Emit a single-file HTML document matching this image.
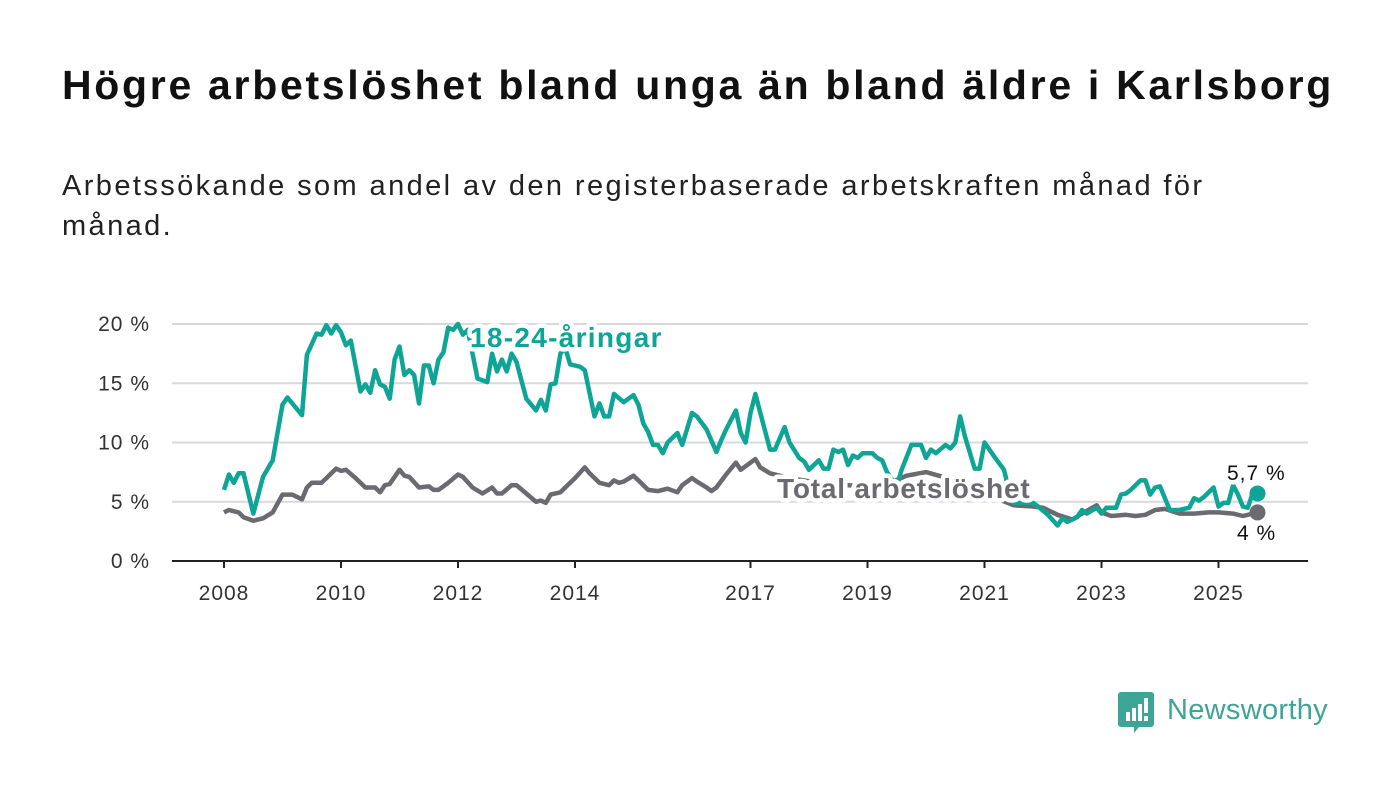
<!DOCTYPE html>
<html><head><meta charset="utf-8"><style>
body{margin:0;background:#fff;font-family:"Liberation Sans",sans-serif;}
#wrap{position:relative;width:1400px;height:794px;overflow:hidden;}
h1{position:absolute;left:62px;top:62px;margin:0;font-size:41px;font-weight:bold;color:#111;letter-spacing:2.7px;}
#sub{position:absolute;left:62px;top:166px;margin:0;font-size:29px;line-height:40px;color:#222;width:1250px;letter-spacing:2.4px;}
</style></head><body>
<div id="wrap">
<h1>Högre arbetslöshet bland unga än bland äldre i Karlsborg</h1>
<p id="sub">Arbetssökande som andel av den registerbaserade arbetskraften månad för<br>månad.</p>
<svg id="chart" width="1400" height="794" style="position:absolute;left:0;top:0"></svg>
</div>
<script>
const yTicks=[0,5,10,15,20];
const yTickLabels=["0 %","5 %","10 %","15 %","20 %"];
const xTicks=[2008,2010,2012,2014,2017,2019,2021,2023,2025];
const youthMonths=[0,1,2,3,4,6,8,10,12,13,16,17,19,20,21,22,23,24,25,26,28,29,30,31,32,33,34,35,36,37,38,39,40,41,42,43,44,45,46,47,48,49,50,52,54,55,56,57,58,59,60,62,64,65,66,67,68,69,70,71,73,74,76,77,78,79,80,82,84,85,86,87,88,89,90,91,93,94,96,97,99,101,102,103,105,106,107,108,109,110,112,113,115,116,118,119,120,122,123,124,125,126,127,128,129,130,131,133,134,135,136,138,139,141,143,144,145,146,148,149,150,151,152,154,155,156,158,160,161,162,166,167,169,171,172,173,175,176,177,179,180,181,183,184,185,186,188,189,190,191,192,194,196,198,199,200,201,203,204,205,206,207,208,209,210,211,212];
const youthValues=[6.0,7.3,6.6,7.4,7.4,4.0,7.1,8.5,13.2,13.8,12.3,17.4,19.2,19.1,19.9,19.2,19.9,19.3,18.2,18.6,14.3,14.9,14.2,16.1,14.9,14.7,13.7,17.0,18.1,15.7,16.1,15.7,13.3,16.5,16.5,15.0,17.0,17.6,19.7,19.5,20.0,19.1,19.5,15.4,15.1,17.5,16.0,17.0,16.0,17.5,16.8,13.7,12.7,13.6,12.7,14.9,15.0,17.5,18.0,16.6,16.4,16.1,12.2,13.3,12.2,12.2,14.1,13.4,14.0,13.2,11.6,10.9,9.8,9.8,9.1,10.0,10.8,9.8,12.5,12.2,11.1,9.2,10.2,11.1,12.7,10.8,10.0,12.5,14.1,12.5,9.4,9.4,11.3,10.0,8.7,8.4,7.7,8.5,7.8,7.8,9.4,9.2,9.4,8.1,8.9,8.7,9.1,9.1,8.7,8.5,7.5,6.3,7.7,9.8,9.8,8.7,9.4,9.1,9.8,9.5,10.0,12.2,10.5,7.8,7.8,10.0,8.8,7.7,6.0,4.9,4.9,4.6,3.9,3.0,3.6,3.3,3.7,4.3,4.0,4.5,4.0,4.5,4.5,5.6,5.7,6.0,6.8,6.8,5.6,6.2,6.3,4.3,4.3,4.5,5.3,5.1,5.4,6.2,4.6,4.9,4.9,6.4,5.6,4.6,4.5,5.7,5.7];
const totalMonths=[0,1,3,4,6,8,10,12,14,16,17,18,20,21,23,24,25,27,29,31,32,33,34,36,37,38,40,42,43,44,46,48,49,51,53,55,56,57,59,60,62,64,65,66,67,69,70,72,74,75,77,79,80,81,82,84,85,87,89,91,93,94,96,97,99,100,101,103,105,106,109,110,112,116,122,128,135,140,144,150,156,159,162,166,168,171,174,176,179,180,182,185,187,189,191,193,196,199,202,204,207,209,212];
const totalValues=[4.1,4.3,4.1,3.7,3.4,3.6,4.1,5.6,5.6,5.2,6.2,6.6,6.6,7.0,7.8,7.6,7.7,7.0,6.2,6.2,5.8,6.4,6.5,7.7,7.2,7.1,6.2,6.3,6.0,6.0,6.6,7.3,7.1,6.2,5.7,6.2,5.7,5.7,6.4,6.4,5.7,5.0,5.1,4.9,5.6,5.8,6.2,7.0,7.9,7.4,6.6,6.4,6.8,6.6,6.7,7.2,6.8,6.0,5.9,6.1,5.8,6.4,7.0,6.7,6.2,5.9,6.2,7.3,8.3,7.7,8.6,7.9,7.4,7.0,6.6,6.4,6.3,7.2,7.5,6.8,5.8,5.2,4.7,4.6,4.5,3.9,3.5,4.0,4.7,4.1,3.8,3.9,3.8,3.9,4.3,4.4,4.0,4.0,4.1,4.1,4.0,3.8,4.1];
const TEAL="#0ea596",GRAY="#6b6a70";
const svg=document.getElementById('chart');const NS="http://www.w3.org/2000/svg";
function xScale(yr){return 224+(yr-2008)*58.5;}
function yScale(v){return 561-v*11.85;}
function mk(t,a){const e=document.createElementNS(NS,t);for(const k in a)e.setAttribute(k,a[k]);svg.appendChild(e);return e;}
yTicks.forEach((v,i)=>{
 if(v>0){const g=mk('line',{x1:172,x2:1308,y1:yScale(v),y2:yScale(v),stroke:'#d9d9d9','stroke-width':2});
 
 }
 const t=mk('text',{x:150,y:yScale(v)+7,'text-anchor':'end','font-size':21,'letter-spacing':1,fill:'#333','font-family':'Liberation Sans, sans-serif'});
 t.textContent=yTickLabels[i];
 
 
});
const ax=mk('line',{x1:172,x2:1308,y1:561,y2:561,stroke:'#222','stroke-width':2});


xTicks.forEach(y=>{
 const tk=mk('line',{x1:xScale(y),x2:xScale(y),y1:561,y2:568,stroke:'#222','stroke-width':2});
 
 
 const t=mk('text',{x:xScale(y),y:600,'text-anchor':'middle','font-size':21,'letter-spacing':1,fill:'#333','font-family':'Liberation Sans, sans-serif'});
 t.textContent=y;
 
 
});
function pts(ms,vs){return ms.map((m,i)=>xScale(2008+m/12).toFixed(1)+','+yScale(vs[i]).toFixed(1)).join(' ');}
const lt=mk('polyline',{points:pts(totalMonths,totalValues),fill:'none',stroke:GRAY,'stroke-width':4.5,'stroke-linejoin':'round'});


const ly=mk('polyline',{points:pts(youthMonths,youthValues),fill:'none',stroke:TEAL,'stroke-width':4.5,'stroke-linejoin':'round'});


const lastT=totalMonths.length-1,lastY=youthMonths.length-1;
const dt=mk('circle',{cx:xScale(2008+totalMonths[lastT]/12),cy:yScale(totalValues[lastT]),r:8,fill:GRAY});


const dy=mk('circle',{cx:xScale(2008+youthMonths[lastY]/12),cy:yScale(youthValues[lastY]),r:8,fill:TEAL});


function lab(x,y,txt,fill,size,weight,ls,name){
 const t=mk('text',{x:x,y:y,'font-size':size,'font-weight':weight,'letter-spacing':ls,fill:fill,stroke:'#fff','stroke-width':9,'stroke-linejoin':'round','paint-order':'stroke','font-family':'Liberation Sans, sans-serif'});
 t.textContent=txt;
 
 
}
lab(470,347,'18-24-åringar',TEAL,28,'bold',1.3,'youth-series-label');
lab(777,498,'Total arbetslöshet',GRAY,28,'bold',0.8,'total-series-label');
lab(1227,480,'5,7 %','#111',21,'normal',1,'youth-end-value');
lab(1237,540,'4 %','#111',21,'normal',1,'total-end-value');
const g=document.createElementNS(NS,'g');svg.appendChild(g);


g.innerHTML='<path d="M1121 692h30a3 3 0 0 1 3 3v29a3 3 0 0 1-3 3h-12l-5 6v-6h-13a3 3 0 0 1-3-3v-29a3 3 0 0 1 3-3z" fill="#3ca596"/><rect x="1126" y="712" width="4" height="9" fill="#fff"/><rect x="1132" y="708" width="4" height="13" fill="#fff"/><rect x="1138" y="704" width="4" height="17" fill="#fff"/><rect x="1144" y="698" width="4" height="15" fill="#fff"/><rect x="1144" y="716" width="4" height="5" fill="#fff"/><text x="1167" y="719" font-size="29" letter-spacing="0.3" fill="#3ca596" font-family="Liberation Sans, sans-serif">Newsworthy</text>';
</script>
</body></html>
